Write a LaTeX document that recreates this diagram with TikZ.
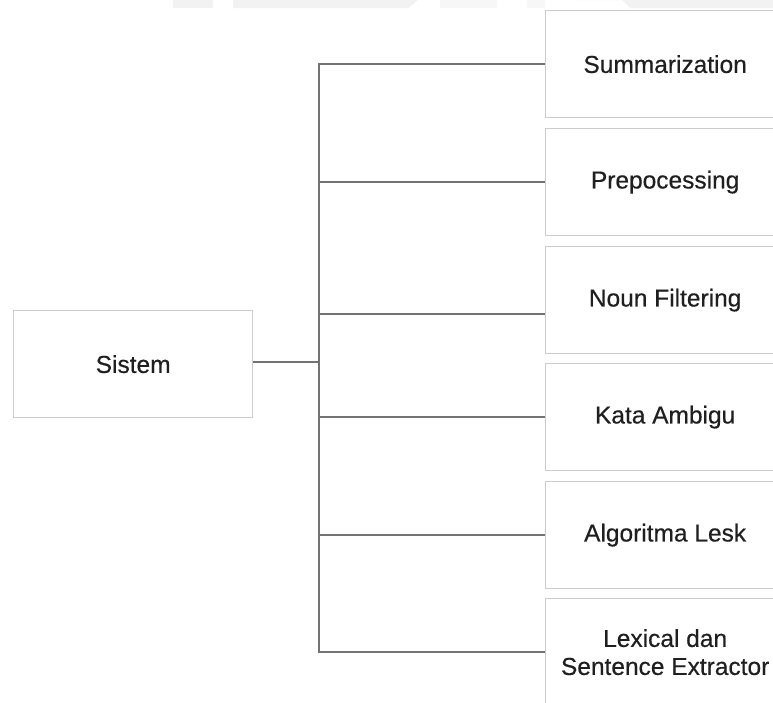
\documentclass[tikz,border=0pt]{standalone}
\usepackage{fontspec}
\setmainfont[FakeBold=0.4]{Liberation Sans}
\begin{document}
\begin{tikzpicture}[x=1pt,y=-1pt,
  box/.style={draw=black!20, line width=1.3pt, fill=white, minimum width=239pt, minimum height=107pt,
    anchor=north west, inner sep=0pt, align=center, font=\fontsize{24.5}{28}\selectfont, text=black!88},
  conn/.style={draw=black!55, line width=2.4pt},
  wm/.style={fill=black!5, draw=none}]
\useasboundingbox (0,0) rectangle (773,702);
\clip (0,0) rectangle (773,702);
% faint watermark remnants at the top edge
\fill[wm] (173,0) rectangle (213,8);
\fill[wm] (233,0) -- (418,0) -- (408,8) -- (233,8) -- cycle;
\fill[black!3] (440,0) rectangle (497,8);
\fill[black!3] (527,0) rectangle (545,8);
\fill[wm] (573,0) -- (773,0) -- (773,8) -- (630,8) -- (622,0) -- cycle;
% nodes
\node[box] (sistem) at (13,310) {Sistem};
\node[box] (b1) at (545,10) {Summarization};
\node[box] (b2) at (545,128) {Prepocessing};
\node[box] (b3) at (545,246) {Noun Filtering};
\node[box] (b4) at (545,363) {Kata Ambigu};
\node[box] (b5) at (545,481) {Algoritma Lesk};
\node[box] (b6) at (545,598) {Lexical dan\\Sentence Extractor};
% connectors
\coordinate (j0) at (319,362);
\coordinate (j1) at (319,64);
\coordinate (j2) at (319,182);
\coordinate (j3) at (319,314);
\coordinate (j4) at (319,417);
\coordinate (j5) at (319,535);
\coordinate (j6) at (319,652);
\draw[conn] (sistem.east |- j0) -- (j0);
\draw[conn, line cap=rect] (j1) -- (j6);
\draw[conn] (j1) -- (j1 -| b1.west);
\draw[conn] (j2) -- (j2 -| b2.west);
\draw[conn] (j3) -- (j3 -| b3.west);
\draw[conn] (j4) -- (j4 -| b4.west);
\draw[conn] (j5) -- (j5 -| b5.west);
\draw[conn] (j6) -- (j6 -| b6.west);
\end{tikzpicture}
\end{document}
